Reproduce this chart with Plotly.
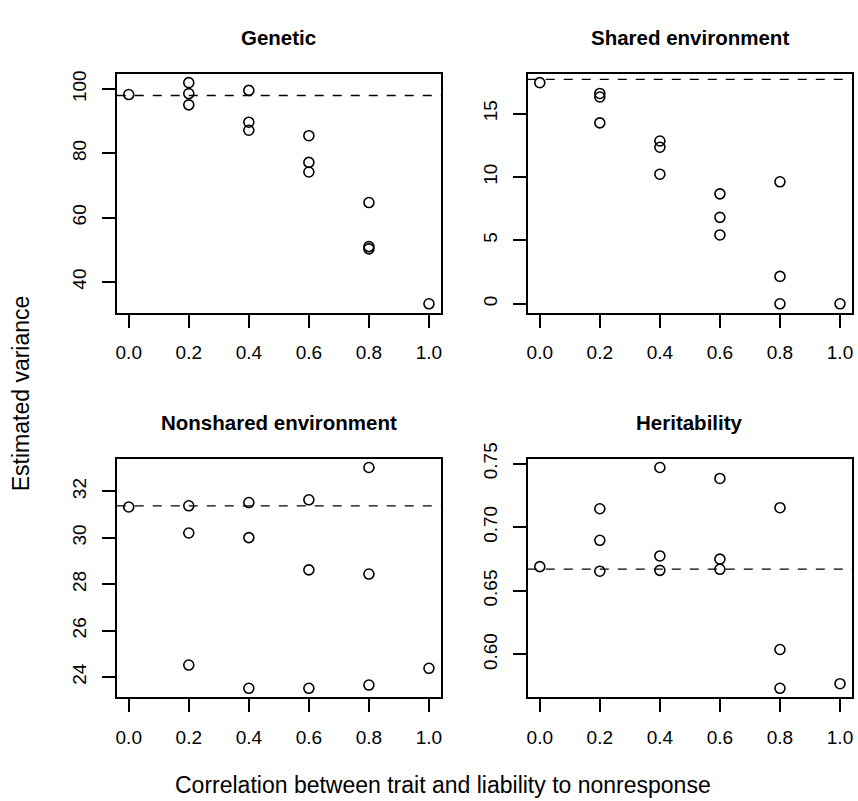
import plotly.graph_objects as go

# ---------------- data ----------------
panel_titles = ["Genetic", "Shared environment", "Nonshared environment", "Heritability"]

genetic_x = [0.0, 0.2, 0.2, 0.2, 0.4, 0.4, 0.4, 0.6, 0.6, 0.6, 0.8, 0.8, 0.8, 1.0]
genetic_y = [98.3, 102.0, 98.6, 95.1, 99.6, 89.7, 87.2, 85.5, 77.2, 74.2, 64.7, 51.0, 50.3, 33.2]

shared_x = [0.0, 0.2, 0.2, 0.2, 0.4, 0.4, 0.4, 0.6, 0.6, 0.6, 0.8, 0.8, 0.8, 1.0]
shared_y = [17.44, 16.59, 16.31, 14.27, 12.84, 12.35, 10.22, 8.67, 6.82, 5.43, 9.62, 2.16, 0.0, 0.0]

nonshared_x = [0.0, 0.2, 0.2, 0.2, 0.4, 0.4, 0.4, 0.6, 0.6, 0.6, 0.8, 0.8, 0.8, 1.0]
nonshared_y = [31.33, 31.38, 30.21, 24.52, 31.52, 30.01, 23.52, 31.64, 28.62, 23.52, 33.03, 28.44, 23.66, 24.38]

herit_x = [0.0, 0.2, 0.2, 0.2, 0.4, 0.4, 0.4, 0.6, 0.6, 0.6, 0.8, 0.8, 0.8, 1.0]
herit_y = [0.669, 0.7145, 0.6897, 0.6654, 0.7469, 0.6774, 0.6661, 0.7383, 0.6749, 0.6669, 0.7153, 0.6039, 0.5734, 0.5770]

true_values = [98.0, 17.7, 31.38, 0.667]

x_ticks = [0.0, 0.2, 0.4, 0.6, 0.8, 1.0]
genetic_ticks = [40, 60, 80, 100]
shared_ticks = [0, 5, 10, 15]
nonshared_ticks = [24, 26, 28, 30, 32]
herit_ticks = [0.60, 0.65, 0.70, 0.75]

x_title = "Correlation between trait and liability to nonresponse"
y_title = "Estimated variance"

# ---------------- layout geometry ----------------
W, H = 858, 801
FONT = "Liberation Sans, Arial, Helvetica, sans-serif"

def px_x(p):
    return p / W

def px_y(p):
    return (H - p) / H

# box pixel extents (left, right, top, bottom)
boxes = [
    (116, 441, 59, 302.7),
    (528, 853, 59, 302.7),
    (116, 441, 451.7, 695),
    (528, 853, 451.7, 695),
]

series = [
    (genetic_x, genetic_y, genetic_ticks, ".0f"),
    (shared_x, shared_y, shared_ticks, ".0f"),
    (nonshared_x, nonshared_y, nonshared_ticks, ".0f"),
    (herit_x, herit_y, herit_ticks, ".2f"),
]

fig = go.Figure()
layout = dict(
    width=W, height=H,
    margin=dict(l=0, r=0, t=0, b=0),
    paper_bgcolor="white", plot_bgcolor="white",
    showlegend=False,
    font=dict(family=FONT, color="black"),
)

annotations = []
shapes = []
LW = 1.7

for i, ((xs, ys, yt, fmt), (l, r, t, b)) in enumerate(zip(series, boxes)):
    n = i + 1
    xa = "x" if n == 1 else f"x{n}"
    ya = "y" if n == 1 else f"y{n}"
    fig.add_trace(go.Scatter(
        x=xs, y=ys, mode="markers", xaxis=xa, yaxis=ya,
        marker=dict(symbol="circle-open", size=10, color="black",
                    line=dict(width=1.6, color="black")),
        hoverinfo="x+y",
    ))
    lo, hi = min(ys), max(ys)
    pad = (hi - lo) * 0.04
    common = dict(
        showline=True, mirror=True, linecolor="black", linewidth=LW,
        ticks="outside", ticklen=13, tickwidth=LW, tickcolor="black",
        showgrid=False, zeroline=False,
        tickfont=dict(size=19, family=FONT, color="black"),
    )
    layout["xaxis" if n == 1 else f"xaxis{n}"] = dict(
        domain=[px_x(l), px_x(r)], range=[-0.04, 1.04],
        anchor=ya, tickvals=x_ticks, tickformat=".1f",
        ticklabelstandoff=9, **common)
    layout["yaxis" if n == 1 else f"yaxis{n}"] = dict(
        domain=[px_y(b), px_y(t)], range=[lo - pad, hi + pad],
        anchor=xa, tickvals=yt, tickformat=fmt, tickangle=-90,
        ticklabelstandoff=8, **common)
    shapes.append(dict(
        type="line", xref=f"{xa} domain", yref=ya,
        x0=0, x1=1, y0=true_values[i], y1=true_values[i],
        line=dict(color="black", width=1.3, dash="9px,9px"),
    ))
    annotations.append(dict(
        text=f"<b>{panel_titles[i]}</b>", xref="paper", yref="paper",
        x=px_x((l + r) / 2), y=px_y(t - 37), xanchor="center", yanchor="middle",
        showarrow=False, font=dict(size=20.5, family=FONT, color="black"),
    ))

annotations.append(dict(
    text=x_title, xref="paper", yref="paper",
    x=px_x(443), y=px_y(785), xanchor="center", yanchor="middle",
    showarrow=False, font=dict(size=23, family=FONT, color="black"),
))
annotations.append(dict(
    text=y_title, xref="paper", yref="paper",
    x=px_x(20), y=px_y(385), xanchor="center", yanchor="middle",
    textangle=-90, showarrow=False,
    font=dict(size=23, family=FONT, color="black"),
))

layout["annotations"] = annotations
layout["shapes"] = shapes
fig.update_layout(**layout)
fig.write_html(
    "out.html",
    config={"displayModeBar": False},
    post_script="document.body.style.margin='0';document.body.style.overflow='hidden';",
)
